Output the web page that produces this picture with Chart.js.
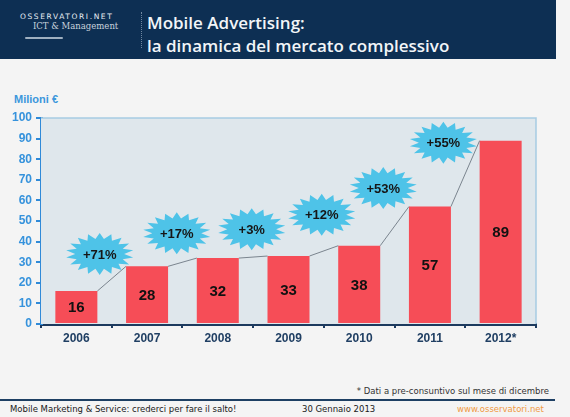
<!DOCTYPE html>
<html>
<head>
<meta charset="utf-8">
<script src="https://cdn.jsdelivr.net/npm/chart.js@4/dist/chart.umd.min.js"></script>
<style>
    body { margin: 0; width: 570px; height: 417px; background: #f4f4f4; font-family: "DejaVu Sans", sans-serif; overflow: hidden; position: relative; }
    #header { position: absolute; left: 0; top: 0; width: 556px; height: 59px; background: #0d2f53; }
    #logo1 { position: absolute; left: 20px; top: 12px; font-size: 7.5px; letter-spacing: 1.6px; color: #e8eef4; font-family: "DejaVu Sans", sans-serif; }
    #logo2 { position: absolute; left: 33px; top: 21px; font-size: 8.5px; color: #c9d3dd; font-family: "DejaVu Serif", serif; }
    #swoosh { position: absolute; left: 25px; top: 37px; width: 38px; height: 2px; background: #9fb0c0; border-radius: 2px; }
    #sep { position: absolute; left: 141px; top: 12px; height: 36px; border-left: 1px dotted #6f87a0; }
    #title { position: absolute; left: 147px; top: 11px; color: #f2f5f8; font-family: "Open Sans", sans-serif; font-weight: 600; font-size: 17px; line-height: 23px; }
    #unit { position: absolute; left: 14px; top: 93px; color: #3c97dc; font-weight: bold; font-size: 11px; font-family: "Liberation Sans", Arial, sans-serif; }
    #chartBox { position: absolute; left: 0; top: 90px; width: 560px; height: 260px; }
    #note { position: absolute; right: 21px; top: 386px; font-size: 8.5px; color: #333; }
    #rule { position: absolute; left: 0; top: 399px; width: 555px; height: 2px; background: #1d3f63; }
    .foot { position: absolute; top: 404px; font-size: 8.5px; color: #1a1a1a; }
</style>
</head>
<body>
<div id="header">
    <div id="logo1">OSSERVATORI.NET</div>
    <div id="logo2">ICT &amp; Management</div>
    <div id="swoosh"></div>
    <div id="sep"></div>
    <div id="title">Mobile Advertising:<br>la dinamica del mercato complessivo</div>
</div>
<div id="unit">Milioni €</div>
<div id="chartBox"><canvas id="marketChart" width="560" height="260"></canvas></div>
<div id="note">* Dati a pre-consuntivo sul mese di dicembre</div>
<div id="rule"></div>
<div class="foot" style="left:10px;">Mobile Marketing &amp; Service: crederci per fare il salto!</div>
<div class="foot" style="left:302px;">30 Gennaio 2013</div>
<div class="foot" style="left:457px; color:#f09a45;">www.osservatori.net</div>

<script>
const years = ['2006', '2007', '2008', '2009', '2010', '2011', '2012*'];
const spending = [16, 28, 32, 33, 38, 57, 89];
const growthLabels = ['+71%', '+17%', '+3%', '+12%', '+53%', '+55%'];
// where each growth badge sits: category index and value on the y scale
const badgeAt = [0.33, 1.42, 2.48, 3.47, 4.34, 5.19];
const badgeLevel = [34, 44, 46, 53, 66, 88];
const yTicks = [0, 10, 20, 30, 40, 50, 60, 70, 80, 90, 100];

let barRed = '#f64d57';
let axisBlue = '#2f8ad8';
let navy = '#1c3a5e';

function drawStar(ctx, cx, cy, rx, ry, spikes) {
    ctx.beginPath();
    for (let i = 0; i < spikes * 2; i++) {
        const a = (Math.PI * i) / spikes - Math.PI / 2;
        const f = i % 2 === 0 ? 1 : 0.72;
        const x = cx + Math.cos(a) * rx * f;
        const y = cy + Math.sin(a) * ry * f;
        if (i === 0) ctx.moveTo(x, y); else ctx.lineTo(x, y);
    }
    ctx.closePath();
    ctx.fill();
}

const plotBackground = {
    id: 'plotBackground',
    beforeDatasetsDraw(chart) {
        const { ctx, chartArea: a } = chart;
        ctx.save();
        ctx.fillStyle = '#dfe7ec';
        ctx.fillRect(a.left, a.top, a.right - a.left, a.bottom - a.top);
        ctx.strokeStyle = '#a7cbe2';
        ctx.lineWidth = 1.5;
        ctx.beginPath();
        ctx.moveTo(a.left, a.top);
        ctx.lineTo(a.right, a.top);
        ctx.lineTo(a.right, a.bottom);
        ctx.stroke();
        ctx.restore();
    }
};

const connectorsAndBadges = {
    id: 'connectorsAndBadges',
    afterDatasetsDraw(chart) {
        const ctx = chart.ctx;
        const bars = chart.getDatasetMeta(0).data;
        const xs = chart.scales.x;
        const ys = chart.scales.y;
        ctx.save();

        // thin lines joining bar tops
        ctx.strokeStyle = '#7b858f';
        ctx.lineWidth = 1;
        for (let i = 0; i < bars.length - 1; i++) {
            const b1 = bars[i], b2 = bars[i + 1];
            ctx.beginPath();
            ctx.moveTo(b1.x + b1.width / 2, b1.y);
            ctx.lineTo(b2.x - b2.width / 2, b2.y);
            ctx.stroke();
        }

        // values inside bars
        ctx.fillStyle = '#111';
        ctx.font = 'bold 15px "Liberation Sans", Arial, sans-serif';
        ctx.textAlign = 'center';
        ctx.textBaseline = 'middle';
        bars.forEach((b, i) => {
            ctx.fillText(spending[i], b.x, (b.y + b.base) / 2 + 1);
        });

        // growth badges
        const step = xs.getPixelForValue(1) - xs.getPixelForValue(0);
        const x0 = xs.getPixelForValue(0);
        growthLabels.forEach((txt, i) => {
            const cx = x0 + badgeAt[i] * step;
            const cy = ys.getPixelForValue(badgeLevel[i]);
            ctx.fillStyle = '#4ec3e8';
            drawStar(ctx, cx, cy, 34, 21, 18);
            ctx.fillStyle = '#161616';
            ctx.font = 'bold 13px "Liberation Sans", Arial, sans-serif';
            ctx.fillText(txt, cx, cy + 1);
        });
        ctx.restore();
    }
};

const ctx = document.getElementById('marketChart').getContext('2d');
new Chart(ctx, {
    type: 'bar',
    data: {
        labels: years,
        datasets: [{
            data: spending,
            backgroundColor: barRed,
            borderWidth: 0,
            categoryPercentage: 1,
            barPercentage: 0.594
        }]
    },
    options: {
        responsive: false,
        animation: false,
        layout: { padding: { top: 28, right: 24, left: 0, bottom: 0 } },
        plugins: { legend: { display: false }, tooltip: { enabled: false } },
        scales: {
            x: {
                afterFit: scale => { scale.height = 26; },
                grid: { drawOnChartArea: false, tickLength: 4, color: navy, lineWidth: 2 },
                border: { color: navy, width: 3 },
                ticks: {
                    color: '#203f63',
                    padding: 3,
                    font: { family: '"Liberation Sans", Arial, sans-serif', size: 12, weight: 'bold' }
                }
            },
            y: {
                min: 0,
                max: 100,
                afterFit: scale => { scale.width = 41; },
                afterBuildTicks: scale => { scale.ticks = yTicks.map(v => ({ value: v })); },
                grid: { drawOnChartArea: false, tickLength: 5, color: axisBlue, lineWidth: 2 },
                border: { color: axisBlue, width: 3 },
                ticks: {
                    color: '#3592dc',
                    padding: 4,
                    font: { family: '"Liberation Sans", Arial, sans-serif', size: 12, weight: 'bold' }
                }
            }
        }
    },
    plugins: [plotBackground, connectorsAndBadges]
});
</script>
</body>
</html>
